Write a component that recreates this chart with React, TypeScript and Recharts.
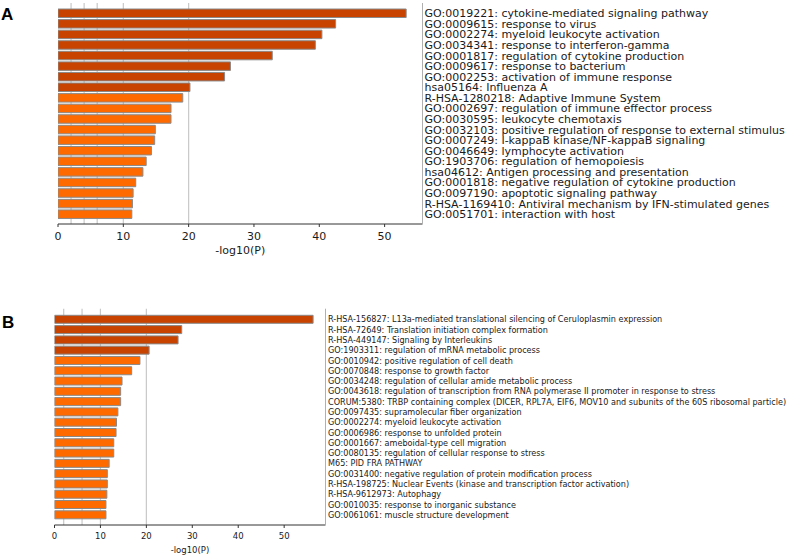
import React from 'react';
import { BarChart, Bar, XAxis, YAxis, CartesianGrid, Cell } from 'recharts';

const termsA = [
  'GO:0019221: cytokine-mediated signaling pathway',
  'GO:0009615: response to virus',
  'GO:0002274: myeloid leukocyte activation',
  'GO:0034341: response to interferon-gamma',
  'GO:0001817: regulation of cytokine production',
  'GO:0009617: response to bacterium',
  'GO:0002253: activation of immune response',
  'hsa05164: Influenza A',
  'R-HSA-1280218: Adaptive Immune System',
  'GO:0002697: regulation of immune effector process',
  'GO:0030595: leukocyte chemotaxis',
  'GO:0032103: positive regulation of response to external stimulus',
  'GO:0007249: I-kappaB kinase/NF-kappaB signaling',
  'GO:0046649: lymphocyte activation',
  'GO:1903706: regulation of hemopoiesis',
  'hsa04612: Antigen processing and presentation',
  'GO:0001818: negative regulation of cytokine production',
  'GO:0097190: apoptotic signaling pathway',
  'R-HSA-1169410: Antiviral mechanism by IFN-stimulated genes',
  'GO:0051701: interaction with host',
];
const valuesA = [53.3, 42.5, 40.4, 39.4, 32.8, 26.4, 25.5, 20.2, 19.1, 17.3, 17.3, 14.9, 14.8, 14.3, 13.5, 13.0, 11.9, 11.5, 11.4, 11.3];
const strongCountA = 8;

const termsB = [
  'R-HSA-156827: L13a-mediated translational silencing of Ceruloplasmin expression',
  'R-HSA-72649: Translation initiation complex formation',
  'R-HSA-449147: Signaling by Interleukins',
  'GO:1903311: regulation of mRNA metabolic process',
  'GO:0010942: positive regulation of cell death',
  'GO:0070848: response to growth factor',
  'GO:0034248: regulation of cellular amide metabolic process',
  'GO:0043618: regulation of transcription from RNA polymerase II promoter in response to stress',
  'CORUM:5380: TRBP containing complex (DICER, RPL7A, EIF6, MOV10 and subunits of the 60S ribosomal particle)',
  'GO:0097435: supramolecular fiber organization',
  'GO:0002274: myeloid leukocyte activation',
  'GO:0006986: response to unfolded protein',
  'GO:0001667: ameboidal-type cell migration',
  'GO:0080135: regulation of cellular response to stress',
  'M65: PID FRA PATHWAY',
  'GO:0031400: negative regulation of protein modification process',
  'R-HSA-198725: Nuclear Events (kinase and transcription factor activation)',
  'R-HSA-9612973: Autophagy',
  'GO:0010035: response to inorganic substance',
  'GO:0061061: muscle structure development',
];
const valuesB = [56.3, 27.7, 26.9, 20.6, 18.6, 16.8, 14.7, 14.4, 14.4, 13.8, 13.5, 13.4, 12.9, 12.9, 11.9, 11.5, 11.5, 11.4, 11.2, 11.2];
const strongCountB = 4;

const xTicks = [0, 10, 20, 30, 40, 50];
const gridValues = [2, 4, 6, 10, 20];
const xTitle = '-log10(P)';

const STRONG = '#c84300';
const LIGHT = '#ff6a00';
const FONT = '"DejaVu Sans", sans-serif';

type PanelProps = {
  terms: string[];
  values: number[];
  strongCount: number;
  xMax: number;
  width: number;
  height: number;
  margin: { top: number; right: number; left: number; bottom: number };
  labelWidth: number;
  axisHeight: number;
  pad: { top: number; bottom: number };
  barSize: number;
  labelFont: number;
  tickFont: number;
  labelDx: number;
  tickMargin: number;
  titleOffset: number;
};

function Panel(p: PanelProps) {
  const data = p.terms.map((name, i) => ({ name, value: p.values[i] }));
  const RightTick = (props: any) => (
    <text
      x={props.x + p.labelDx}
      y={props.y}
      dy="0.36em"
      fontSize={p.labelFont}
      fontFamily={FONT}
      fill="#1a1a1a"
      textAnchor="start"
    >
      {props.payload.value}
    </text>
  );
  return (
    <BarChart width={p.width} height={p.height} data={data} layout="vertical" margin={p.margin}>
      <CartesianGrid horizontal={false} vertical={true} verticalValues={gridValues} stroke="#c8c8c8" strokeWidth={1.2} />
      <XAxis
        type="number"
        dataKey="value"
        domain={[0, p.xMax]}
        ticks={xTicks}
        allowDataOverflow
        height={p.axisHeight}
        axisLine={{ stroke: '#333', strokeWidth: 1 }}
        tickLine={{ stroke: '#333' }}
        tickSize={3}
        tickMargin={p.tickMargin}
        tick={{ fontSize: p.tickFont, fontFamily: FONT, fill: '#1a1a1a' }}
        label={{ value: xTitle, position: 'insideBottom', offset: p.titleOffset, style: { fontSize: p.tickFont, fontFamily: FONT, fill: '#1a1a1a' } }}
      />
      <XAxis
        xAxisId="top"
        orientation="top"
        type="number"
        domain={[0, p.xMax]}
        height={0}
        tick={false}
        tickLine={false}
        axisLine={{ stroke: '#b0b0b0', strokeWidth: 1 }}
      />
      <YAxis
        type="category"
        dataKey="name"
        orientation="right"
        width={p.labelWidth}
        padding={p.pad}
        interval={0}
        axisLine={{ stroke: '#b0b0b0', strokeWidth: 1 }}
        tickLine={false}
        tickSize={0}
        tickMargin={0}
        tick={RightTick}
      />
      <YAxis
        yAxisId="left"
        type="category"
        dataKey="name"
        orientation="left"
        width={0}
        tick={false}
        tickLine={false}
        axisLine={{ stroke: '#333', strokeWidth: 1 }}
      />
      <Bar dataKey="value" barSize={p.barSize} stroke="#8a8a8a" strokeWidth={1} isAnimationActive={false}>
        {data.map((d, i) => (
          <Cell key={d.name} fill={i < p.strongCount ? STRONG : LIGHT} />
        ))}
      </Bar>
    </BarChart>
  );
}

export default function App() {
  return (
    <div style={{ position: 'absolute', left: 0, top: 0, width: 793, height: 555, background: '#fff', overflow: 'hidden' }}>
      <div style={{ position: 'absolute', left: 0, top: 0 }}>
        <Panel
          terms={termsA}
          values={valuesA}
          strongCount={strongCountA}
          xMax={55.8}
          width={793}
          height={260}
          margin={{ top: 3, right: 0, left: 58, bottom: 0 }}
          labelWidth={370.5}
          axisHeight={36}
          pad={{ top: 5, bottom: 4.5 }}
          barSize={8.5}
          labelFont={11}
          tickFont={11}
          labelDx={2}
          tickMargin={5}
          titleOffset={6}
        />
      </div>
      <div style={{ position: 'absolute', left: 0, top: 300 }}>
        <Panel
          terms={termsB}
          values={valuesB}
          strongCount={strongCountB}
          xMax={59}
          width={793}
          height={255}
          margin={{ top: 8.7, right: 0, left: 54.5, bottom: 0 }}
          labelWidth={467.5}
          axisHeight={30}
          pad={{ top: 5.6, bottom: 4.9 }}
          barSize={8}
          labelFont={8.1}
          tickFont={8.5}
          labelDx={2.5}
          tickMargin={5}
          titleOffset={2}
        />
      </div>
      <div style={{ position: 'absolute', left: 1, top: 5, fontFamily: '"Liberation Sans", Arial, sans-serif', fontWeight: 'bold', fontSize: 17, lineHeight: '20px' }}>A</div>
      <div style={{ position: 'absolute', left: 2, top: 313, fontFamily: '"Liberation Sans", Arial, sans-serif', fontWeight: 'bold', fontSize: 17, lineHeight: '20px' }}>B</div>
    </div>
  );
}
